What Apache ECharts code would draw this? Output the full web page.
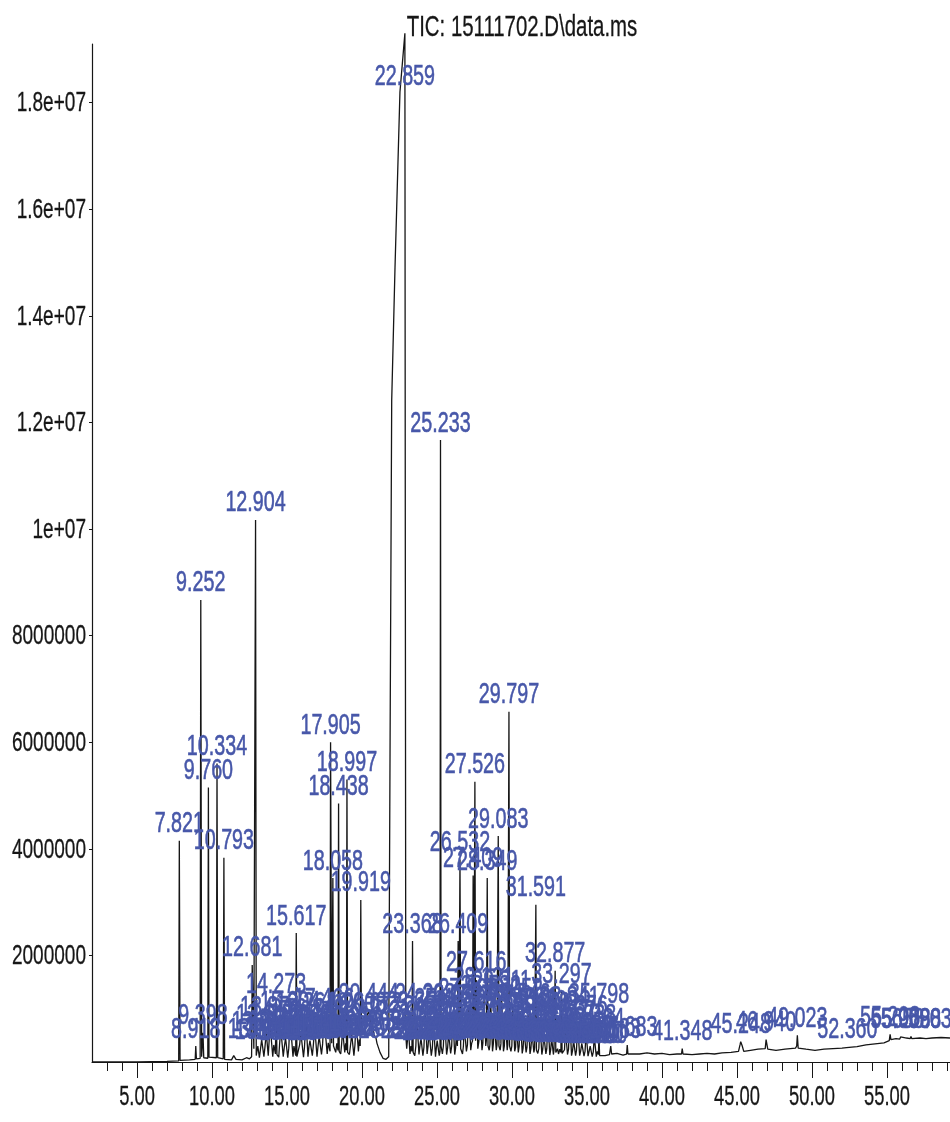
<!DOCTYPE html>
<html>
<head>
<meta charset="utf-8">
<title>TIC 15111702.D</title>
<script src="https://cdn.jsdelivr.net/npm/echarts@6/dist/echarts.min.js"></script>
<style>
  html, body { margin: 0; padding: 0; background: #ffffff; }
  #chart { width: 950px; height: 1122px; }
</style>
</head>
<body>
<div id="chart"></div>
<script>
// Integrated peaks as [retention time (min), apex abundance (millions of counts)]
const earlyPeaks = [
  [7.821, 4.15], [8.918, 0.30], [9.252, 8.67], [9.398, 0.55], [9.760, 5.15],
  [10.334, 5.60], [10.793, 3.83], [12.681, 1.82], [12.904, 10.17]
];
const midPeaks = [
  [13.055, 0.30], [13.312, 0.42], [13.530, 0.28], [13.617, 0.55], [13.874, 0.70],
  [14.118, 0.32], [14.273, 1.14], [14.507, 0.34], [14.586, 0.62], [14.820, 0.28],
  [14.905, 0.45], [15.118, 0.26], [15.204, 0.80], [15.462, 0.30], [15.617, 2.42],
  [15.841, 0.32], [15.923, 0.55], [16.165, 0.28], [16.264, 0.78], [16.468, 0.30],
  [16.531, 0.40], [16.760, 0.33], [16.848, 0.66], [17.070, 0.30], [17.142, 0.48],
  [17.375, 0.34], [17.466, 0.85], [17.748, 0.36], [17.905, 6.00], [18.058, 3.45],
  [18.318, 0.35], [18.438, 4.85], [18.640, 0.33], [18.705, 0.60], [18.912, 0.35],
  [18.997, 5.30], [19.228, 0.30], [19.316, 0.52], [19.530, 0.32], [19.608, 0.78],
  [19.820, 0.42], [19.919, 3.04], [20.444, 0.95], [20.672, 0.78], [20.934, 0.45]
];
const mainClusterPeaks = [
  [22.859, 19.30], [23.096, 0.62], [23.268, 0.30], [23.368, 2.27], [23.590, 0.30],
  [23.652, 0.80], [23.868, 0.32], [23.931, 0.45], [24.130, 0.28], [24.208, 0.95],
  [24.405, 0.30], [24.470, 0.58], [24.690, 0.26], [24.765, 0.72], [24.960, 0.28],
  [25.012, 0.40], [25.233, 11.67], [25.425, 0.30], [25.498, 0.85], [25.710, 0.27],
  [25.776, 0.55], [25.980, 0.30], [26.052, 0.92], [26.240, 0.26], [26.289, 0.48],
  [26.409, 2.27], [26.532, 3.80], [26.760, 0.30], [26.817, 0.68], [27.030, 0.32],
  [27.103, 1.05], [27.310, 0.35], [27.409, 3.50], [27.526, 5.26], [27.616, 1.54],
  [27.790, 0.38], [27.874, 0.90], [28.060, 0.36], [28.121, 1.25], [28.290, 0.40],
  [28.349, 3.45], [28.530, 0.33], [28.582, 1.10], [28.760, 0.35], [28.815, 0.75],
  [29.000, 0.32], [29.083, 4.24], [29.260, 0.34], [29.311, 1.20], [29.490, 0.30],
  [29.548, 0.85], [29.720, 0.33], [29.797, 6.57], [29.990, 0.30], [30.052, 1.05]
];
const tailClusterPeaks = [
  [30.240, 0.28], [30.298, 0.70], [30.480, 0.30], [30.546, 0.95], [30.740, 0.26],
  [30.803, 0.60], [31.000, 0.28], [31.071, 0.88], [31.260, 0.25], [31.330, 0.55],
  [31.510, 0.27], [31.591, 2.95], [31.790, 0.26], [31.858, 0.78], [32.050, 0.24],
  [32.124, 0.50], [32.320, 0.25], [32.392, 0.82], [32.580, 0.23], [32.640, 0.45],
  [32.800, 0.22], [32.877, 1.71], [33.040, 0.25], [33.190, 0.24], [33.297, 1.33],
  [33.500, 0.23], [33.562, 0.62], [33.770, 0.24], [33.841, 0.90], [34.040, 0.22],
  [34.105, 0.40], [34.300, 0.22], [34.376, 0.72], [34.580, 0.21], [34.653, 0.35],
  [34.870, 0.20], [34.938, 0.55], [35.140, 0.20], [35.211, 0.30], [35.420, 0.19],
  [35.484, 0.48], [35.690, 0.20], [35.798, 0.50], [36.583, 0.30], [37.683, 0.32]
];
const latePeaks = [
  [41.348, 0.25], [45.248, 0.38], [46.940, 0.42], [49.023, 0.50], [52.360, 0.30],
  [55.208, 0.52], [55.908, 0.47], [56.598, 0.48], [58.032, 0.47]
];

// Signal between the apexes as [time, abundance]: valleys, the fronting main peak, baseline drift
const earlyTrace = [
  [2.00, 0.00], [3.00, 0.00], [5.00, 0.00], [7.00, 0.01], [7.78, 0.02], [7.87, 0.03],
  [8.50, 0.04], [8.88, 0.05], [8.96, 0.06], [9.21, 0.07], [9.31, 0.10], [9.45, 0.08],
  [9.72, 0.07], [9.80, 0.09], [10.29, 0.08], [10.38, 0.08], [10.75, 0.06], [10.84, 0.05],
  [11.30, 0.04], [11.45, 0.12], [11.60, 0.05], [12.00, 0.04], [12.30, 0.08], [12.50, 0.06],
  [12.64, 0.10], [12.79, 0.25], [12.95, 0.12]
];
const midTrace = [
  [13.16, 0.08], [13.46, 0.10], [13.75, 0.12], [14.05, 0.10], [14.23, 0.15], [14.33, 0.14],
  [14.45, 0.09], [14.75, 0.10], [15.05, 0.08], [15.40, 0.10], [15.58, 0.12], [15.66, 0.10],
  [15.78, 0.12], [16.10, 0.09], [16.40, 0.10], [16.69, 0.12], [17.00, 0.10], [17.30, 0.14],
  [17.68, 0.15], [17.87, 0.20], [17.98, 0.35], [18.10, 0.30], [18.25, 0.18], [18.40, 0.22],
  [18.48, 0.20], [18.58, 0.15], [18.85, 0.18], [18.96, 0.22], [19.04, 0.18], [19.16, 0.14],
  [19.46, 0.12], [19.76, 0.20], [19.88, 0.30], [19.96, 0.55], [20.10, 0.80], [20.30, 0.85],
  [20.60, 0.72], [20.80, 0.50], [21.00, 0.35], [21.20, 0.18], [21.40, 0.07], [21.60, 0.05]
];
const mainPeakTrace = [
  [21.78, 0.10], [21.88, 6.50], [21.98, 12.40], [22.20, 14.90], [22.53, 18.20],
  [22.89, 9.00], [22.92, 0.50], [22.98, 0.25]
];
const clusterTrace = [
  [23.20, 0.15], [23.33, 0.20], [23.41, 0.18], [23.52, 0.12], [23.80, 0.14], [24.06, 0.12],
  [24.34, 0.15], [24.62, 0.12], [24.90, 0.10], [25.15, 0.12], [25.20, 0.20], [25.27, 0.30],
  [25.36, 0.15], [25.64, 0.14], [25.91, 0.16], [26.18, 0.14], [26.36, 0.30], [26.46, 0.40],
  [26.58, 0.25], [26.70, 0.15], [26.96, 0.20], [27.25, 0.22], [27.37, 0.40], [27.46, 0.45],
  [27.57, 0.40], [27.72, 0.25], [28.00, 0.22], [28.25, 0.30], [28.40, 0.30], [28.48, 0.22],
  [28.70, 0.20], [28.95, 0.22], [29.04, 0.30], [29.13, 0.30], [29.21, 0.22], [29.43, 0.20],
  [29.68, 0.22], [29.76, 0.35], [29.84, 0.30], [29.93, 0.20], [30.18, 0.20], [30.42, 0.18],
  [30.68, 0.16], [30.94, 0.18], [31.20, 0.15], [31.46, 0.18], [31.55, 0.25], [31.63, 0.22],
  [31.72, 0.16], [31.99, 0.14], [32.26, 0.15], [32.52, 0.13], [32.76, 0.14], [32.84, 0.20],
  [32.92, 0.18], [33.10, 0.15], [33.26, 0.18], [33.34, 0.16], [33.44, 0.13], [33.70, 0.14],
  [33.97, 0.12], [34.24, 0.12], [34.51, 0.12], [34.80, 0.11], [35.07, 0.11], [35.35, 0.10],
  [35.62, 0.10], [35.76, 0.14], [35.84, 0.12]
];
const lateTrace = [
  [36.20, 0.12], [36.50, 0.14], [36.64, 0.15], [36.72, 0.15], [37.00, 0.16], [37.40, 0.13],
  [37.64, 0.15], [37.73, 0.15], [38.50, 0.15], [39.00, 0.17], [39.50, 0.15], [40.00, 0.16],
  [40.50, 0.14], [41.00, 0.15], [41.30, 0.15], [41.40, 0.15], [42.00, 0.14], [42.50, 0.15],
  [43.00, 0.16], [43.50, 0.15], [44.00, 0.17], [44.60, 0.18], [45.10, 0.20], [45.20, 0.32],
  [45.35, 0.30], [45.45, 0.20], [45.90, 0.22], [46.40, 0.24], [46.88, 0.25], [47.05, 0.24],
  [47.60, 0.22], [48.20, 0.24], [48.90, 0.26], [48.98, 0.30], [49.08, 0.26], [49.60, 0.24],
  [50.20, 0.22], [50.80, 0.24], [51.40, 0.25], [52.00, 0.26], [52.30, 0.27], [52.42, 0.27],
  [53.00, 0.29], [53.60, 0.32], [54.20, 0.34], [54.80, 0.36], [55.15, 0.40], [55.26, 0.42],
  [55.60, 0.44], [55.85, 0.43], [55.96, 0.44], [56.30, 0.45], [56.55, 0.44], [56.65, 0.44],
  [57.20, 0.45], [57.60, 0.44], [58.00, 0.45], [58.08, 0.45], [58.60, 0.46], [59.20, 0.45]
];

// Integration baseline drawn under the crowded middle section
const integrationLine = [[24.3, 0.64], [35.0, 0.64]];

// Axis ticks and labels
const minorTickTimes = [];
for (let t = 3; t <= 59; t++) minorTickTimes.push(t);
const majorTickTimes = [5, 10, 15, 20, 25, 30, 35, 40, 45, 50, 55];
const abundanceTicks = [2, 4, 6, 8, 10, 12, 14, 16, 18];
const TIME_MIN = 2, TIME_MAX = 59.2, ABUND_MAX = 19.1;

const titleText = 'TIC: 15111702.D\\data.ms';

// Report-style typography: tall, horizontally compressed Arial-like text
const FONT = "'Liberation Sans', Arial, sans-serif";
const SQUEEZE = 0.68;
const labelBlue = '#4757a9';
const inkBlack = '#161616';

// Label nudges for annotations that sit away from their apex
const labelOffsets = { '22.859': [0, 60], '35.798': [0, -24] };

const peaks = earlyPeaks.concat(midPeaks, mainClusterPeaks, tailClusterPeaks, latePeaks);
const peakLabels = peaks.map(p => p[0].toFixed(3));

// Chromatogram line: apex points merged with the in-between trace points, ordered by time
const tracePoints = peaks
  .concat(earlyTrace, midTrace, mainPeakTrace, clusterTrace, lateTrace)
  .map(p => [p[0], p[1]])
  .sort((a, b) => a[0] - b[0]);

function abundanceLabel(v) {
  if (v >= 10) return (v / 10) + 'e+07';
  return String(Math.round(v * 1e6));
}

function squeezedText(x, y, text, size, color, align, vAlign, weight) {
  return {
    type: 'text', x: x, y: y, scaleX: SQUEEZE, silent: true,
    style: {
      text: text, fill: color, fontFamily: FONT, fontSize: size,
      align: align, verticalAlign: vAlign,
      stroke: color, lineWidth: weight
    }
  };
}

const chart = echarts.init(document.getElementById('chart'), null, { renderer: 'canvas' });
chart.setOption({
  animation: false,
  backgroundColor: '#ffffff',
  graphic: [
    squeezedText(522, 28, titleText, 30, inkBlack, 'center', 'middle', 0.3)
  ],
  grid: { left: 92, right: 0, top: 44, bottom: 60, containLabel: false, outerBoundsMode: 'none' },
  xAxis: [
    {
      type: 'value', min: TIME_MIN, max: TIME_MAX, position: 'bottom',
      axisLine: { show: true, lineStyle: { color: inkBlack, width: 1.2 } },
      axisTick: { show: true, customValues: minorTickTimes, length: 9, lineStyle: { color: inkBlack } },
      axisLabel: { show: false },
      splitLine: { show: false }
    },
    {
      type: 'value', min: TIME_MIN, max: TIME_MAX, position: 'bottom',
      axisLine: { show: false },
      axisTick: { show: true, customValues: majorTickTimes, length: 16, lineStyle: { color: inkBlack } },
      axisLabel: { show: false },
      splitLine: { show: false }
    }
  ],
  yAxis: {
    type: 'value', min: 0, max: ABUND_MAX,
    axisLine: { show: true, lineStyle: { color: inkBlack, width: 1.2 } },
    axisTick: { show: true, customValues: abundanceTicks, length: 3, lineStyle: { color: inkBlack } },
    axisLabel: { show: false },
    splitLine: { show: false }
  },
  series: [
    {
      type: 'line', name: 'integration', xAxisIndex: 0,
      data: integrationLine,
      showSymbol: false, symbol: 'none', silent: true,
      lineStyle: { color: 'rgba(205,80,100,0.75)', width: 1 }, z: 1
    },
    {
      type: 'line', name: 'TIC', xAxisIndex: 0,
      data: tracePoints, showSymbol: false, symbol: 'none',
      clip: false, sampling: null,
      lineStyle: { color: inkBlack, width: 1.3 }, z: 2
    },
    {
      // retention-time annotations above each integrated peak
      type: 'custom', name: 'peak labels', xAxisIndex: 0, z: 5, silent: true, clip: false,
      data: peaks,
      renderItem: (params, api) => {
        const p = api.coord([api.value(0), api.value(1)]);
        const text = peakLabels[params.dataIndex];
        const off = labelOffsets[text] || [0, 0];
        return squeezedText(p[0] + off[0], p[1] - 2 + off[1], text, 29, labelBlue, 'center', 'bottom', 0.6);
      }
    },
    {
      // abundance scale labels
      type: 'custom', name: 'abundance labels', xAxisIndex: 0, z: 5, silent: true, clip: false,
      data: abundanceTicks.map(v => [TIME_MIN, v]),
      renderItem: (params, api) => {
        const p = api.coord([api.value(0), api.value(1)]);
        return squeezedText(p[0] - 6, p[1] + 1, abundanceLabel(api.value(1)), 28, inkBlack, 'right', 'middle', 0.3);
      }
    },
    {
      // retention time scale labels
      type: 'custom', name: 'time labels', xAxisIndex: 0, z: 5, silent: true, clip: false,
      data: majorTickTimes.map(t => [t, 0]),
      renderItem: (params, api) => {
        const p = api.coord([api.value(0), api.value(1)]);
        return squeezedText(p[0], p[1] + 36, api.value(0).toFixed(2), 27, inkBlack, 'center', 'middle', 0.3);
      }
    }
  ]
});
</script>
</body>
</html>
